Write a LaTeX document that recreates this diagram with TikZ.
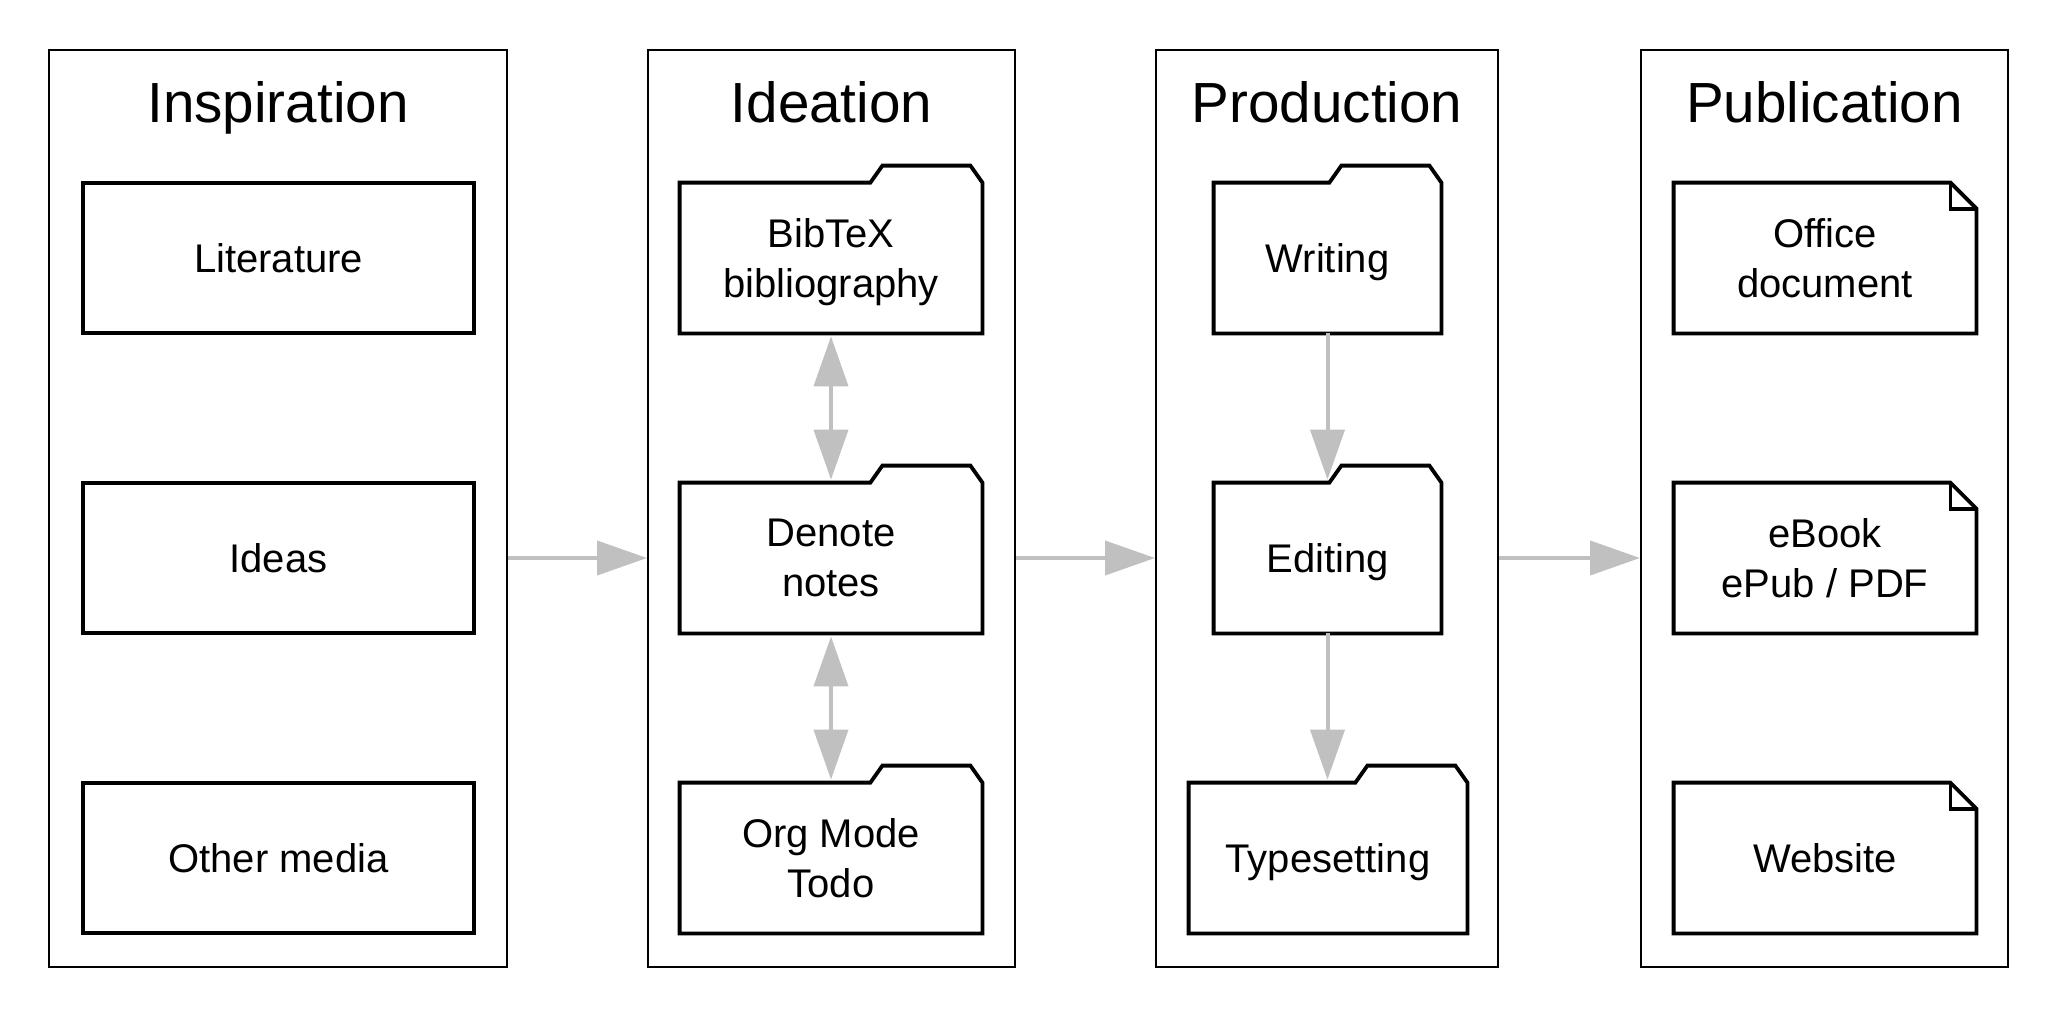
\documentclass[tikz,border=0pt]{standalone}
\usepackage{fontspec}
\setmainfont{Liberation Sans}
\usetikzlibrary{arrows.meta,calc}
\definecolor{arrowgray}{RGB}{192,192,192}
\begin{document}
\begin{tikzpicture}[x=0.5pt,y=-0.5pt,
  stage/.style={draw=black,line width=1pt,minimum width=#1,minimum height=458.5pt,inner sep=0pt},
  stagetitle/.style={anchor=base,inner sep=0pt,font=\fontsize{28.3}{34}\selectfont},
  itembox/.style={minimum width=#1,minimum height=75pt,inner sep=0pt,align=center,
    text depth=0pt,font=\fontsize{20}{25}\selectfont},
  plainbox/.style={itembox=#1,draw=black,line width=1.9pt},
  outline/.style={draw=black,line width=1.9pt,line join=miter},
  flow/.style={draw=arrowgray,line width=2pt,-{Triangle[length=25pt,width=17pt]}},
  biflow/.style={draw=arrowgray,line width=2pt,{Triangle[length=25pt,width=17pt]}-{Triangle[length=25pt,width=17pt]}}
]
\fill[white] (0,0) rectangle (2058,1017);
\useasboundingbox (0,0) rectangle (2058,1017);

% stages
\node[stage=229pt] (s1) at (278,508.5) {};
\node[stage=183.5pt] (s2) at (831.5,508.5) {};
\node[stage=171pt] (s3) at (1327,508.5) {};
\node[stage=183.5pt] (s4) at (1824.5,508.5) {};

\node[stagetitle] (t1) at (278,122) {Inspiration};
\node[stagetitle] (t2) at (831.5,122) {Ideation};
\node[stagetitle] (t3) at (1327,122) {Production};
\node[stagetitle] (t4) at (1824.5,122) {Publication};

% inspiration
\node[plainbox=195.5pt] (lit) at (278.5,258) {Literature};
\node[plainbox=195.5pt] (ideas) at (278.5,558) {Ideas};
\node[plainbox=195.5pt] (media) at (278.5,858) {Other media};

% ideation
\node[itembox=151pt] (bib) at (831,258) {BibTeX\\bibliography};
\node[itembox=151pt] (denote) at (831,558) {Denote\\notes};
\node[itembox=151pt] (org) at (831,858) {Org Mode\\Todo};

% production
\node[itembox=113.5pt] (writing) at (1327.5,258) {Writing};
\node[itembox=113.5pt] (editing) at (1327.5,558) {Editing};
\node[itembox=139pt] (typeset) at (1328,858) {Typesetting};

% publication
\node[itembox=151pt] (office) at (1825,258) {Office\\document};
\node[itembox=151pt] (ebook) at (1825,558) {eBook\\ePub / PDF};
\node[itembox=151pt] (website) at (1825,858) {Website};

% folder outlines
\foreach \n in {bib,denote,org,writing,editing,typeset}{
  \draw[outline] (\n.south west) -- (\n.north west)
    -- ($(\n.north east)+(-112,0)$) -- ($(\n.north east)+(-100,-17)$)
    -- ($(\n.north east)+(-12,-17)$) -- (\n.north east)
    -- (\n.south east) -- cycle;
}
% document outlines
\foreach \n in {office,ebook,website}{
  \draw[outline] (\n.south west) -- (\n.north west)
    -- ($(\n.north east)+(-26,0)$) -- ($(\n.north east)+(0,26)$)
    -- (\n.south east) -- cycle;
  \draw[outline] ($(\n.north east)+(-26,0)$) -- ($(\n.north east)+(-26,26)$)
    -- ($(\n.north east)+(0,26)$);
}

% connectors
\draw[flow] (s1.east |- ideas) -- (s2.west |- denote);
\draw[flow] (s2.east |- denote) -- (s3.west |- editing);
\draw[flow] (s3.east |- editing) -- (s4.west |- ebook);

\draw[biflow,shorten <=1.5pt,shorten >=1.5pt] (bib.south) -- (denote.north);
\draw[biflow,shorten <=1.5pt,shorten >=1.5pt] (denote.south) -- (org.north);

\draw[flow,shorten >=1.5pt] (writing.south) -- (editing.north);
\draw[flow,shorten >=1.5pt] (editing.south) -- (editing.south |- typeset.north);
\end{tikzpicture}
\end{document}
